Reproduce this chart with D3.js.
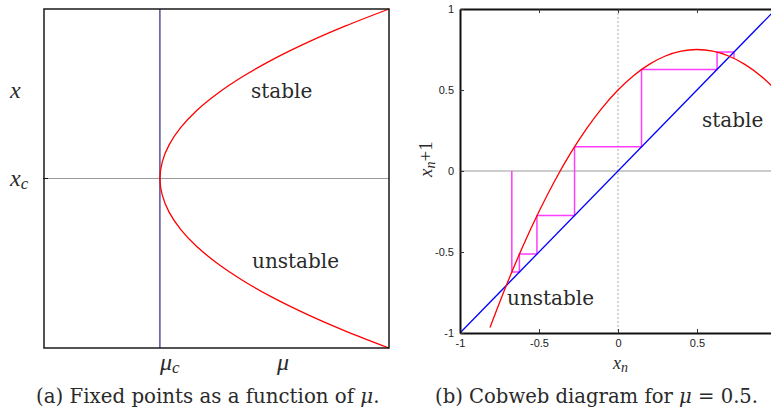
<!DOCTYPE html>
<html>
<head>
<meta charset="utf-8">
<script src="https://cdn.jsdelivr.net/npm/d3@7"></script>
<style>
    body { margin: 0; background: #fff; }
    svg { display: block; }
    .serif { font-family: "DejaVu Serif", serif; fill: #2a2a2a; }
    .math { font-family: "Liberation Serif", "DejaVu Serif", serif; font-style: italic; fill: #2a2a2a; }
    .tick text { font-family: "Liberation Sans Narrow", "Liberation Sans", sans-serif; font-size: 11px; fill: #222; }
</style>
</head>
<body>
<svg id="chart" width="771" height="412"></svg>
<script>
"use strict";



//
// Data
//

// (a) fixed points: position x against the parameter mu (mu on [0, 1], x on [-1, 1])
var fixedX  = [-1, -0.9, -0.8, -0.7, -0.6, -0.5, -0.4, -0.3, -0.2, -0.1, 0, 0.1, 0.2, 0.3, 0.4, 0.5, 0.6, 0.7, 0.8, 0.9, 1];
var fixedMu = [1, 0.874, 0.761, 0.661, 0.575, 0.502, 0.442, 0.396, 0.363, 0.343, 0.336, 0.343, 0.363, 0.396, 0.442, 0.502, 0.575, 0.661, 0.761, 0.874, 1];
var muCritical = 0.336;
var xCritical = 0;

// (b) cobweb: map curve
var mapXn  = [-0.81, -0.7, -0.6, -0.5, -0.4, -0.3, -0.2, -0.1, 0, 0.1, 0.2, 0.3, 0.4, 0.5, 0.6, 0.7, 0.8, 0.9, 1];
var mapXn1 = [-0.966, -0.69, -0.46, -0.25, -0.06, 0.11, 0.26, 0.39, 0.5, 0.59, 0.66, 0.71, 0.74, 0.75, 0.74, 0.71, 0.66, 0.59, 0.5];

// iterates of the cobweb
var cobwebStart = -0.672;
var cobwebLevels = [-0.624, -0.513, -0.275, 0.149, 0.627, 0.734, 0.695];

var cobwebTicks = [-1, -0.5, 0, 0.5, 1];



var svg = d3.select("#chart"),
    chartWidth = +svg.attr("width");



//
// Panel (a): fixed points as a function of mu
//

function buildFixedPointPanel () {

    var mu = d3.scaleLinear().domain([0, 1]).range([44, 389]),
        x = d3.scaleLinear().domain([-1, 1]).range([348, 9]);

    var g = svg.append("g").attr("class", "panel-a");

    // x_c line
    g.append("line")
        .attr("x1", mu(0)).attr("x2", mu(1))
        .attr("y1", x(xCritical)).attr("y2", x(xCritical))
        .style("stroke", "#9a9a9a").style("stroke-width", 1);

    g.append("line")
        .attr("x1", mu(0) - 1).attr("x2", mu(0) + 4)
        .attr("y1", x(xCritical)).attr("y2", x(xCritical))
        .style("stroke", "#111").style("stroke-width", 1);

    // mu_c line
    g.append("line")
        .attr("x1", mu(muCritical)).attr("x2", mu(muCritical))
        .attr("y1", x(1)).attr("y2", x(-1))
        .style("stroke", "#16167a").style("stroke-width", 1.1);

    var line = d3.line()
        .x(function (d, i) { return mu(fixedMu[i]); })
        .y(function (d, i) { return x(d); })
        .curve(d3.curveCatmullRom);

    g.append("path")
        .datum(fixedX)
        .attr("d", line)
        .style("fill", "none")
        .style("stroke", "#ff0000")
        .style("stroke-width", 1.3);

    g.append("rect")
        .attr("x", mu(0)).attr("y", x(1))
        .attr("width", mu(1) - mu(0)).attr("height", x(-1) - x(1))
        .style("fill", "none").style("stroke", "#1a1a1a").style("stroke-width", 1.5);

    // labels
    g.append("text").attr("class", "serif").attr("x", 251).attr("y", 98)
        .style("font-size", "20px").text("stable");
    g.append("text").attr("class", "serif").attr("x", 252).attr("y", 268)
        .style("font-size", "20px").text("unstable");

    g.append("text").attr("class", "math").attr("x", 10).attr("y", 98)
        .style("font-size", "24px").text("x");

    var xc = g.append("text").attr("class", "math").attr("x", 10).attr("y", 186)
        .style("font-size", "24px");
    xc.append("tspan").text("x");
    xc.append("tspan").attr("dy", 3).style("font-size", "17px").text("c");

    var muc = g.append("text").attr("class", "math").attr("x", mu(muCritical)).attr("y", 370)
        .style("font-size", "24px");
    muc.append("tspan").text("μ");
    muc.append("tspan").attr("dy", 3).style("font-size", "17px").text("c");

    g.append("text").attr("class", "math").attr("x", 277).attr("y", 370)
        .style("font-size", "24px").text("μ");

    var cap = g.append("text").attr("class", "serif").attr("x", 36).attr("y", 403)
        .style("font-size", "19.8px");
    cap.append("tspan").text("(a)  Fixed points as a function of ");
    cap.append("tspan").style("font-style", "italic").text("μ");
    cap.append("tspan").text(".");
}



//
// Panel (b): cobweb diagram
//

function buildCobwebPanel () {

    var xn = d3.scaleLinear().domain([-1, 1]).range([460, 776]),
        xn1 = d3.scaleLinear().domain([-1, 1]).range([333, 9]);

    var g = svg.append("g").attr("class", "panel-b");

    g.append("clipPath").attr("id", "cobweb-clip")
        .append("rect")
        .attr("x", xn(-1)).attr("y", xn1(1))
        .attr("width", xn(1) - xn(-1)).attr("height", xn1(-1) - xn1(1));

    var plot = g.append("g").attr("clip-path", "url(#cobweb-clip)");

    // zero lines
    plot.append("line")
        .attr("x1", xn(-1)).attr("x2", xn(1))
        .attr("y1", xn1(0)).attr("y2", xn1(0))
        .style("stroke", "#9a9a9a").style("stroke-width", 1);

    plot.append("line")
        .attr("x1", xn(0)).attr("x2", xn(0))
        .attr("y1", xn1(1)).attr("y2", xn1(-1))
        .style("stroke", "#aaa").style("stroke-width", 1)
        .style("stroke-dasharray", "2,2");

    // cobweb path: vertical to the curve, horizontal to the diagonal
    var steps = [[cobwebStart, 0]],
        cur = cobwebStart;

    cobwebLevels.forEach(function (level, i) {
        steps.push([cur, level]);
        if (i < cobwebLevels.length - 1) {
            steps.push([level, level]);
            cur = level;
        }
    });

    plot.append("path")
        .datum(steps)
        .attr("d", d3.line()
            .x(function (d) { return xn(d[0]); })
            .y(function (d) { return xn1(d[1]); }))
        .style("fill", "none")
        .style("stroke", "#ff3cff")
        .style("stroke-width", 1.5);

    // diagonal
    plot.append("line")
        .attr("x1", xn(-1)).attr("y1", xn1(-1))
        .attr("x2", xn(1)).attr("y2", xn1(1))
        .style("stroke", "#0000ff").style("stroke-width", 1.3);

    // map curve
    plot.append("path")
        .datum(mapXn)
        .attr("d", d3.line()
            .x(function (d) { return xn(d); })
            .y(function (d, i) { return xn1(mapXn1[i]); })
            .curve(d3.curveCatmullRom))
        .style("fill", "none")
        .style("stroke", "#ff0000")
        .style("stroke-width", 1.3);

    // axes (the right end of the panel runs past the picture edge)
    var fmt = function (d) { return String(d); },
        visibleTicks = cobwebTicks.filter(function (d) { return xn(d) < chartWidth; });

    var bottom = g.append("g")
        .attr("transform", "translate(0," + xn1(-1) + ")")
        .call(d3.axisBottom(xn).tickValues(visibleTicks).tickFormat(fmt)
            .tickSizeInner(-4).tickSizeOuter(0).tickPadding(6));

    var top = g.append("g")
        .attr("transform", "translate(0," + xn1(1) + ")")
        .call(d3.axisTop(xn).tickValues(visibleTicks).tickFormat("")
            .tickSizeInner(-4).tickSizeOuter(0));

    var left = g.append("g")
        .attr("transform", "translate(" + xn(-1) + ",0)")
        .call(d3.axisLeft(xn1).tickValues(cobwebTicks).tickFormat(fmt)
            .tickSizeInner(-4).tickSizeOuter(0).tickPadding(6));

    [bottom, top, left].forEach(function (a) {
        a.select(".domain").style("stroke", "#111").style("stroke-width", 2);
        a.selectAll(".tick line").style("stroke", "#333");
    });

    // labels
    g.append("text").attr("class", "serif").attr("x", 702).attr("y", 127)
        .style("font-size", "20px").text("stable");
    g.append("text").attr("class", "serif").attr("x", 507).attr("y", 305)
        .style("font-size", "20px").text("unstable");

    var xl = g.append("text").attr("class", "math").attr("x", 613).attr("y", 369)
        .style("font-size", "18px");
    xl.append("tspan").text("x");
    xl.append("tspan").attr("dy", 3).style("font-size", "14px").text("n");

    var yl = g.append("text").attr("class", "math")
        .attr("transform", "translate(432,177) rotate(-90)")
        .style("font-size", "19px");
    yl.append("tspan").text("x");
    yl.append("tspan").attr("dy", 3).style("font-size", "14px").text("n");
    yl.append("tspan").attr("dy", -3).style("font-style", "normal").text("+1");

    var cap = g.append("text").attr("class", "serif").attr("x", 435).attr("y", 403)
        .style("font-size", "19.6px");
    cap.append("tspan").text("(b)  Cobweb diagram for ");
    cap.append("tspan").style("font-style", "italic").text("μ");
    cap.append("tspan").text(" = 0.5.");
}



buildFixedPointPanel();
buildCobwebPanel();
</script>
</body>
</html>
